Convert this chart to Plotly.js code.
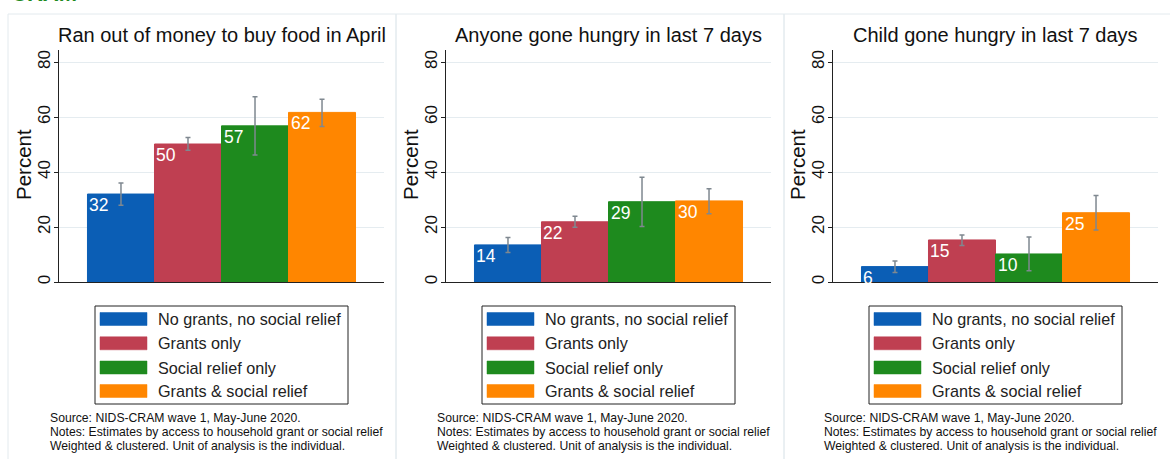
<!DOCTYPE html>
<html>
<head>
<meta charset="utf-8">
<script src="https://cdn.plot.ly/plotly-3.0.1.min.js"></script>
<style>html,body{margin:0;padding:0;background:#fff;}#chart{width:1170px;height:459px;}</style>
</head>
<body>
<div id="chart"></div>
<script>
// ---- data ----
const groups = ["No grants, no social relief", "Grants only", "Social relief only", "Grants & social relief"];
const colors = ["#0B5EB5", "#BF3F51", "#1E8A1E", "#FF8600"];
const panelTitles = ["Ran out of money to buy food in April", "Anyone gone hungry in last 7 days", "Child gone hungry in last 7 days"];
const ranOutMoney = [32.0, 50.2, 56.8, 61.7];
const ranOutMoneyLo = [27.9, 47.9, 46.2, 56.6];
const ranOutMoneyHi = [36.0, 52.6, 67.4, 66.5];
const anyoneHungry = [13.5, 21.9, 29.2, 29.5];
const anyoneHungryLo = [10.7, 19.9, 20.2, 24.8];
const anyoneHungryHi = [16.2, 23.9, 38.1, 33.9];
const childHungry = [5.6, 15.3, 10.2, 25.2];
const childHungryLo = [3.5, 13.3, 4.1, 18.9];
const childHungryHi = [7.6, 17.1, 16.4, 31.5];
const yTicks = [0, 20, 40, 60, 80];
const yTitle = "Percent";
const sourceLines = ["Source: NIDS-CRAM wave 1, May-June 2020.",
                     "Notes: Estimates by access to household grant or social relief",
                     "Weighted & clustered. Unit of analysis is the individual."];
const topLabel = "CRAM";

const panels = [
  {v: ranOutMoney, lo: ranOutMoneyLo, hi: ranOutMoneyHi},
  {v: anyoneHungry, lo: anyoneHungryLo, hi: anyoneHungryHi},
  {v: childHungry, lo: childHungryLo, hi: childHungryHi}
];

// ---- layout helpers ----
const W = 1170, H = 459;
const px = x => x / W;
const py = y => 1 - y / H;
const FONT = "Liberation Sans, Arial, Helvetica, sans-serif";
const NARROW = "Liberation Sans Narrow, Arial Narrow, Liberation Sans, Arial, sans-serif";
const offset = 387;
const plotL = 59, plotR = 384, plotT = 50, plotB = 282;

const traces = [];
const annotations = [];
const shapes = [];
const layout = {
  width: W, height: H,
  margin: {l: 0, r: 0, t: 0, b: 0},
  paper_bgcolor: "#fff", plot_bgcolor: "#fff",
  showlegend: false,
  font: {family: FONT, color: "#111"},
  annotations: annotations, shapes: shapes
};

const xs = groups.map((g, i) => i);

panels.forEach((p, k) => {
  const sfx = k === 0 ? "" : String(k + 1);
  const xa = "x" + sfx, ya = "y" + sfx;
  const dx = offset * k;
  traces.push({
    type: "bar", x: xs, y: p.v, width: 1,
    xaxis: xa, yaxis: ya,
    marker: {color: colors, line: {color: colors, width: 1}},
    error_y: {type: "data", symmetric: false,
      array: p.hi.map((h, i) => h - p.v[i]),
      arrayminus: p.lo.map((l, i) => p.v[i] - l),
      color: "#7f8890", thickness: 1.5, width: 2.5},
    hoverinfo: "skip"
  });
  layout["xaxis" + sfx] = {
    domain: [px(plotL + dx), px(plotR + dx)], anchor: ya,
    range: [-0.925, 3.925], showgrid: false, zeroline: false,
    showticklabels: false, ticks: "", showline: true, linecolor: "#222", linewidth: 1,
    fixedrange: true
  };
  layout["yaxis" + sfx] = {
    domain: [py(plotB), py(plotT)], anchor: xa,
    range: [0, 84.4], tickvals: yTicks, ticktext: yTicks.map(String),
    tickangle: -90, ticks: "outside", ticklen: 4, tickcolor: "#222",
    ticklabelstandoff: -3,
    tickfont: {size: 17, color: "#111"},
    showline: true, linecolor: "#222", linewidth: 1,
    showgrid: true, gridcolor: "#e5ecf0", gridwidth: 1, zeroline: false,
    automargin: false, fixedrange: true
  };
  // y axis title
  annotations.push({
    xref: "paper", yref: "paper", x: px(23 + dx), y: py(165),
    xanchor: "center", yanchor: "middle", textangle: -90, text: yTitle, showarrow: false,
    font: {size: 20.5, color: "#111", family: FONT}
  });
  // bar value labels
  p.v.forEach((v, i) => {
    annotations.push({
      xref: xa, yref: ya, x: i - 0.5, y: v, xanchor: "left", yanchor: "top",
      text: String(Math.round(v)), showarrow: false, xshift: 0, yshift: 1,
      font: {size: 17.5, color: "#fff", family: FONT}
    });
  });
  // panel title
  annotations.push({
    xref: "paper", yref: "paper", x: px((plotL + plotR) / 2 + dx), y: py(35),
    xanchor: "center", yanchor: "middle", text: panelTitles[k], showarrow: false,
    font: {size: 20, color: "#111", family: FONT}
  });
  // panel border
  shapes.push({type: "rect", xref: "paper", yref: "paper",
    x0: px(k === 0 ? 8 : 8 + 388 * k), x1: px(k === 2 ? 1200 : 396 + 388 * k),
    y0: py(14), y1: py(480), line: {color: "#e3eaee", width: 1}, fillcolor: "rgba(0,0,0,0)", layer: "below"});
  // legend box
  shapes.push({type: "rect", xref: "paper", yref: "paper",
    x0: px(95 + dx), x1: px(348 + dx), y0: py(306), y1: py(404),
    line: {color: "#222", width: 1}, fillcolor: "#fff"});
  const rows = [319, 343.3, 367.5, 391];
  groups.forEach((g, i) => {
    shapes.push({type: "rect", xref: "paper", yref: "paper",
      x0: px(100 + dx), x1: px(147 + dx), y0: py(rows[i] + 6.5), y1: py(rows[i] - 6.5),
      line: {color: colors[i], width: 0.5}, fillcolor: colors[i]});
    annotations.push({xref: "paper", yref: "paper", x: px(156 + dx), y: py(rows[i]),
      xanchor: "left", yanchor: "middle", text: g, showarrow: false,
      font: {size: 16.2, color: "#222", family: FONT}});
  });
  // source notes
  sourceLines.forEach((t, j) => {
    annotations.push({xref: "paper", yref: "paper", x: px(48 + dx), y: py(418 + 14 * j),
      xanchor: "left", yanchor: "middle", text: t, showarrow: false,
      font: {size: 12.2, color: "#111", family: NARROW}});
  });
});

// cut-off green heading at the very top (only its lower edge shows, as in the source image)
annotations.push({xref: "paper", yref: "paper", x: px(10), y: py(8),
  xanchor: "left", yanchor: "bottom", text: "<b><i>" + topLabel + "</i></b>", showarrow: false,
  font: {size: 22, color: "#1E8A1E", family: FONT}});

Plotly.newPlot("chart", traces, layout, {staticPlot: true, displayModeBar: false});
</script>
</body>
</html>
